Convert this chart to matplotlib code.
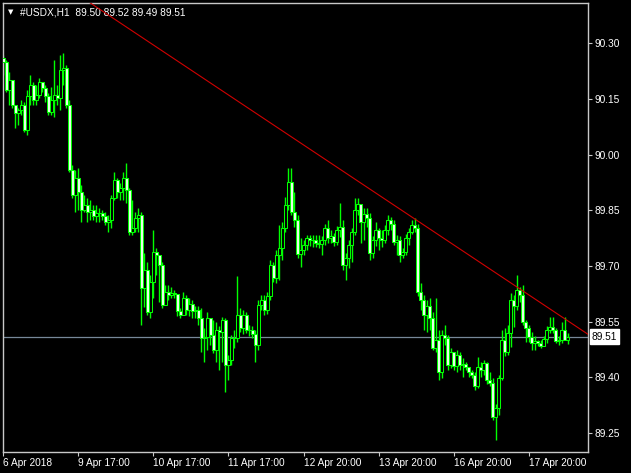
import numpy as np
import matplotlib.pyplot as plt
import matplotlib.transforms as mtransforms

# #USDX H1 candles, 6 Apr - 17 Apr 2018
first_open = 90.259
close = [90.249, 90.174, 90.200, 90.134, 90.112, 90.120, 90.134, 90.066, 90.158, 90.187,
         90.147, 90.160, 90.195, 90.179, 90.158, 90.115, 90.147, 90.160, 90.152, 90.227,
         90.232, 90.134, 89.958, 89.891, 89.937, 89.899, 89.851, 89.864, 89.846, 89.851,
         89.835, 89.843, 89.843, 89.835, 89.819, 89.824, 89.883, 89.931, 89.899, 89.910,
         89.937, 89.904, 89.792, 89.803, 89.830, 89.838, 89.641, 89.689, 89.576, 89.657,
         89.738, 89.730, 89.703, 89.595, 89.630, 89.622, 89.627, 89.624, 89.579, 89.568,
         89.614, 89.581, 89.597, 89.579, 89.581, 89.560, 89.506, 89.509, 89.560, 89.514,
         89.474, 89.528, 89.522, 89.555, 89.433, 89.447, 89.506, 89.506, 89.568, 89.533,
         89.568, 89.528, 89.528, 89.517, 89.487, 89.595, 89.608, 89.581, 89.619, 89.703,
         89.668, 89.730, 89.749, 89.803, 89.864, 89.926, 89.846, 89.824, 89.733, 89.743,
         89.757, 89.776, 89.770, 89.770, 89.762, 89.760, 89.770, 89.803, 89.776, 89.781,
         89.765, 89.797, 89.805, 89.703, 89.722, 89.757, 89.792, 89.851, 89.867, 89.819,
         89.840, 89.830, 89.735, 89.770, 89.797, 89.776, 89.770, 89.797, 89.824, 89.813,
         89.765, 89.770, 89.730, 89.738, 89.776, 89.792, 89.811, 89.803, 89.630, 89.608,
         89.568, 89.592, 89.560, 89.479, 89.501, 89.415, 89.514, 89.506, 89.433, 89.468,
         89.431, 89.460, 89.433, 89.436, 89.428, 89.415, 89.406, 89.377, 89.428, 89.420,
         89.439, 89.393, 89.385, 89.293, 89.318, 89.398, 89.501, 89.468, 89.519, 89.608,
         89.592, 89.635, 89.622, 89.549, 89.533, 89.509, 89.493, 89.498, 89.493, 89.485,
         89.503, 89.528, 89.536, 89.528, 89.498, 89.501, 89.528, 89.500, 89.510]
high = [90.268, 90.254, 90.222, 90.166, 90.134, 90.126, 90.147, 90.142, 90.174, 90.214,
        90.195, 90.187, 90.206, 90.192, 90.187, 90.166, 90.182, 90.254, 90.187, 90.268,
        90.273, 90.241, 90.147, 89.971, 89.958, 89.963, 89.917, 89.891, 89.883, 89.878,
        89.864, 89.864, 89.856, 89.851, 89.846, 89.838, 89.891, 89.953, 89.937, 89.923,
        89.953, 89.977, 89.910, 89.878, 89.846, 89.856, 89.846, 89.735, 89.711, 89.676,
        89.797, 89.749, 89.730, 89.711, 89.649, 89.649, 89.643, 89.635, 89.595, 89.587,
        89.630, 89.622, 89.614, 89.608, 89.592, 89.592, 89.587, 89.533, 89.576, 89.560,
        89.555, 89.549, 89.538, 89.563, 89.560, 89.460, 89.514, 89.528, 89.673, 89.587,
        89.581, 89.576, 89.541, 89.538, 89.528, 89.608, 89.622, 89.622, 89.630, 89.716,
        89.711, 89.743, 89.811, 89.819, 89.886, 89.963, 89.963, 89.899, 89.838, 89.776,
        89.770, 89.784, 89.784, 89.784, 89.784, 89.784, 89.781, 89.813, 89.824, 89.797,
        89.789, 89.808, 89.870, 89.824, 89.735, 89.770, 89.803, 89.883, 89.883, 89.859,
        89.856, 89.856, 89.843, 89.781, 89.819, 89.803, 89.797, 89.811, 89.838, 89.832,
        89.824, 89.784, 89.781, 89.749, 89.786, 89.803, 89.824, 89.830, 89.813, 89.654,
        89.622, 89.608, 89.614, 89.576, 89.614, 89.528, 89.528, 89.541, 89.514, 89.479,
        89.468, 89.474, 89.468, 89.452, 89.441, 89.425, 89.420, 89.415, 89.455, 89.441,
        89.447, 89.441, 89.415, 89.398, 89.328, 89.406, 89.528, 89.533, 89.541, 89.627,
        89.622, 89.676, 89.643, 89.649, 89.555, 89.541, 89.522, 89.511, 89.501, 89.501,
        89.511, 89.538, 89.563, 89.563, 89.533, 89.511, 89.549, 89.563, 89.520]
low = [90.214, 90.169, 90.134, 90.126, 90.071, 90.080, 90.107, 90.061, 90.053, 90.134,
       90.134, 90.134, 90.152, 90.169, 90.142, 90.107, 90.107, 90.101, 90.134, 90.120,
       90.187, 90.126, 89.953, 89.883, 89.846, 89.851, 89.819, 89.846, 89.819, 89.824,
       89.824, 89.819, 89.819, 89.824, 89.811, 89.792, 89.803, 89.878, 89.883, 89.878,
       89.878, 89.870, 89.784, 89.784, 89.792, 89.792, 89.541, 89.589, 89.568, 89.560,
       89.614, 89.676, 89.603, 89.587, 89.595, 89.608, 89.614, 89.614, 89.565, 89.560,
       89.581, 89.568, 89.565, 89.560, 89.560, 89.541, 89.468, 89.441, 89.474, 89.487,
       89.466, 89.441, 89.420, 89.441, 89.361, 89.393, 89.433, 89.479, 89.495, 89.522,
       89.517, 89.519, 89.511, 89.506, 89.441, 89.474, 89.581, 89.568, 89.571, 89.608,
       89.657, 89.654, 89.662, 89.716, 89.792, 89.851, 89.838, 89.805, 89.722, 89.697,
       89.730, 89.743, 89.754, 89.751, 89.751, 89.749, 89.730, 89.757, 89.762, 89.762,
       89.754, 89.757, 89.778, 89.689, 89.662, 89.695, 89.711, 89.784, 89.838, 89.762,
       89.770, 89.805, 89.716, 89.722, 89.754, 89.743, 89.751, 89.762, 89.784, 89.797,
       89.757, 89.730, 89.711, 89.722, 89.730, 89.757, 89.786, 89.792, 89.619, 89.581,
       89.528, 89.522, 89.528, 89.474, 89.468, 89.393, 89.398, 89.487, 89.420, 89.425,
       89.420, 89.415, 89.420, 89.401, 89.420, 89.401, 89.398, 89.366, 89.371, 89.401,
       89.406, 89.382, 89.377, 89.285, 89.231, 89.298, 89.393, 89.458, 89.460, 89.482,
       89.536, 89.581, 89.603, 89.541, 89.495, 89.495, 89.474, 89.474, 89.485, 89.479,
       89.485, 89.493, 89.519, 89.519, 89.493, 89.487, 89.493, 89.500, 89.490]

tick_bars = [0, 25, 50, 75, 100, 125, 150, 175]
tick_labels = ['6 Apr 2018', '9 Apr 17:00', '10 Apr 17:00', '11 Apr 17:00',
               '12 Apr 20:00', '13 Apr 20:00', '16 Apr 20:00', '17 Apr 20:00']
price_ticks = [89.25, 89.40, 89.55, 89.70, 89.85, 90.00, 90.15, 90.30]

# trendline anchor points (bar index, price)
trend_pts = [(29.5, 90.405), (195.2, 89.514)]
last_price = 89.51

plt.rcParams['font.family'] = ['Liberation Sans', 'DejaVu Sans']

close = np.array(close)
opens = np.concatenate([[first_open], close[:-1]])
high = np.maximum(np.array(high), np.maximum(opens, close))
low = np.minimum(np.array(low), np.minimum(opens, close))
idx = np.arange(len(close))

fig = plt.figure(figsize=(6.31, 4.73), dpi=100, facecolor='black')
ax = fig.add_axes([2.5 / 631, 21 / 473, 585.5 / 631, 449 / 473])
ax.set_facecolor('black')

lime = '#00ff00'
ax.vlines(idx, low, high, color=lime, lw=1.0, zorder=2)
bull = close >= opens
body_bot = np.minimum(opens, close)
body_h = np.abs(close - opens)
ax.bar(idx[bull], body_h[bull], bottom=body_bot[bull], width=0.8,
       color='black', edgecolor=lime, lw=0.75, zorder=3)
ax.bar(idx[~bull], body_h[~bull], bottom=body_bot[~bull], width=0.8,
       color='#eaffea', edgecolor=lime, lw=0.75, zorder=3)

# current price line and trendline
ax.axhline(last_price, color='#778899', lw=0.9, zorder=1)
ax.axline(trend_pts[0], trend_pts[1], color='#d00000', lw=0.8, zorder=4)

ax.set_xlim(-0.33, 194.83)
ax.set_ylim(89.199, 90.408)

ax.set_xticks(tick_bars)
ax.set_xticklabels(tick_labels)
for lbl in ax.get_xticklabels():
    lbl.set_ha('left')
ax.yaxis.tick_right()
ax.set_yticks(price_ticks)
ax.set_yticklabels([f'{p:.2f}' for p in price_ticks])
ax.tick_params(axis='both', colors='#c8c8c8', labelcolor='white', labelsize=7.3,
               direction='out', length=3, width=0.8)
ax.tick_params(axis='x', pad=1)
ax.tick_params(axis='y', pad=2)
for s in ax.spines.values():
    s.set_color('#c8c8c8')
    s.set_linewidth(1)

trans = mtransforms.blended_transform_factory(ax.transAxes, ax.transData)
ax.text(1.0 + 4 / 585.5, last_price, f'{last_price:.2f}', transform=trans,
        ha='left', va='center', fontsize=7.3, color='black',
        bbox=dict(boxstyle='square,pad=0.2', facecolor='white', edgecolor='white'))

ax.text(5 / 585.5, 1 - 9.5 / 449, '\u25bc', transform=ax.transAxes, color='white',
        fontsize=5, ha='left', va='center', family='DejaVu Sans')
ax.text(17 / 585.5, 1 - 9.5 / 449, '#USDX,H1  89.50 89.52 89.49 89.51',
        transform=ax.transAxes, color='white', fontsize=7.3, ha='left', va='center')

fig.savefig('out.png', dpi=100, facecolor='black')
